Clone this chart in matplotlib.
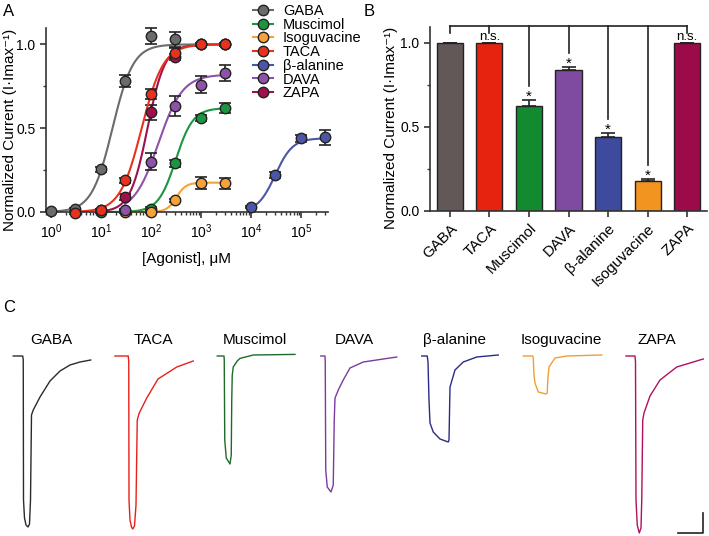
import numpy as np
import matplotlib
matplotlib.use("Agg")
import matplotlib.pyplot as plt
from matplotlib.ticker import MultipleLocator, LogLocator

plt.rcParams['font.family'] = ['Liberation Sans', 'DejaVu Sans']
plt.rcParams['font.size'] = 11
plt.rcParams['axes.linewidth'] = 1.2
plt.rcParams['xtick.major.width'] = 1.2
plt.rcParams['ytick.major.width'] = 1.2

# ---- panel A: concentration-response data ----
gaba_x = [1, 3, 10, 30, 100, 300, 1000, 3000]
gaba_y = [0.005, 0.015, 0.255, 0.78, 1.05, 1.03, 1.0, 1.0]
gaba_err = [0.005, 0.01, 0.015, 0.035, 0.05, 0.045, 0.01, 0.01]

musc_x = [10, 30, 100, 300, 1000, 3000]
musc_y = [0.0, 0.008, 0.02, 0.29, 0.56, 0.62]
musc_err = [0.005, 0.005, 0.01, 0.02, 0.02, 0.03]

iso_x = [30, 100, 300, 1000, 3000]
iso_y = [0.0, 0.0, 0.07, 0.175, 0.17]
iso_err = [0.005, 0.005, 0.01, 0.035, 0.035]

taca_x = [3, 10, 30, 100, 300, 1000, 3000]
taca_y = [-0.005, 0.01, 0.19, 0.705, 0.95, 1.0, 1.0]
taca_err = [0.005, 0.005, 0.015, 0.03, 0.03, 0.01, 0.01]

bala_x = [1e4, 3e4, 1e5, 3e5]
bala_y = [0.03, 0.22, 0.44, 0.445]
bala_err = [0.005, 0.02, 0.02, 0.045]

dava_x = [30, 100, 300, 1000, 3000]
dava_y = [0.01, 0.30, 0.635, 0.76, 0.83]
dava_err = [0.005, 0.05, 0.06, 0.05, 0.05]

zapa_x = [10, 30, 100, 300, 1000, 3000]
zapa_y = [0.01, 0.09, 0.595, 0.925, 1.0, 1.0]
zapa_err = [0.005, 0.02, 0.045, 0.02, 0.01, 0.01]

# Hill fit parameters: EC50 (uM), Hill slope, max
fit_ec50 = {'GABA': 17, 'Muscimol': 310, 'Isoguvacine': 320, 'TACA': 65,
            'β-alanine': 30000, 'DAVA': 140, 'ZAPA': 85}
fit_nh = {'GABA': 2.1, 'Muscimol': 2.5, 'Isoguvacine': 4.5, 'TACA': 2.0,
          'β-alanine': 2.5, 'DAVA': 1.8, 'ZAPA': 2.5}
fit_top = {'GABA': 1.0, 'Muscimol': 0.62, 'Isoguvacine': 0.175, 'TACA': 1.0,
           'β-alanine': 0.44, 'DAVA': 0.82, 'ZAPA': 1.0}

# ---- panel B: max responses ----
b_names = ['GABA', 'TACA', 'Muscimol', 'DAVA', 'β-alanine', 'Isoguvacine', 'ZAPA']
b_vals = [1.0, 1.0, 0.625, 0.835, 0.44, 0.175, 1.0]
b_err = [0.0, 0.0, 0.035, 0.02, 0.02, 0.012, 0.0]
b_sig = ['', 'n.s.', '*', '*', '*', '*', 'n.s.']
b_colors = ['#625858', '#e5230e', '#148a30', '#7f4ba0', '#3d4a9e', '#f29420', '#9d0a4a']

# ---- panel C: example traces (time in s, current in uA) ----
tr_gaba_t = [0, 3.8, 4.0, 4.1, 4.5, 5.1, 5.9, 6.5, 6.9, 7.3, 8.0, 10.7, 14.7, 18.7, 22.7, 26.7, 31.0]
tr_gaba_i = [0, 0, -0.2, -7.2, -8.1, -8.45, -8.55, -8.4, -7.2, -2.95, -2.7, -2.05, -1.25, -0.75, -0.45, -0.3, -0.2]
tr_taca_t = [0, 5.3, 5.5, 5.6, 6.0, 6.6, 7.1, 7.8, 8.4, 8.9, 9.7, 11.3, 12.7, 17.2, 24.7, 31.3]
tr_taca_i = [0, 0, -0.3, -7.2, -8.2, -8.55, -8.65, -8.5, -7.45, -3.2, -2.85, -2.45, -2.1, -1.15, -0.55, -0.25]
tr_musc_t = [0, 2.7, 2.8, 3.0, 3.6, 5.1, 5.6, 5.8, 6.0, 6.4, 8.0, 9.1, 14.4, 31.1]
tr_musc_i = [0, 0, -0.2, -4.2, -5.1, -5.4, -4.95, -2.2, -0.95, -0.55, -0.25, -0.12, 0.05, 0.08]
tr_dava_t = [0, 1.7, 1.8, 2.0, 2.6, 4.1, 5.0, 5.4, 5.7, 7.2, 9.0, 11.7, 17.0, 30.4]
tr_dava_i = [0, 0, -0.3, -5.7, -6.55, -6.8, -6.45, -3.2, -2.1, -1.65, -1.2, -0.6, -0.3, -0.05]
tr_bala_t = [0, 2.2, 2.5, 2.9, 3.3, 4.6, 7.3, 10.6, 10.9, 11.2, 11.3, 13.3, 16.6, 22.0, 30.6]
tr_bala_i = [0, 0, -0.3, -2.2, -3.35, -3.8, -4.15, -4.3, -4.2, -2.2, -1.55, -0.7, -0.3, -0.05, 0.05]
tr_iso_t = [0, 3.8, 4.0, 4.3, 4.7, 6.0, 9.1, 9.6, 9.8, 10.3, 12.7, 17.4, 31.4]
tr_iso_i = [0, 0, -0.1, -0.95, -1.35, -1.8, -1.9, -1.85, -1.2, -0.55, -0.1, 0, 0.05]
tr_zapa_t = [0, 3.6, 3.8, 4.0, 4.5, 5.3, 6.0, 6.3, 6.7, 7.2, 9.6, 13.6, 20.3, 30.9]
tr_zapa_i = [0, 0, -0.3, -7.2, -8.45, -8.85, -8.6, -7.2, -3.2, -2.85, -2.0, -1.2, -0.55, -0.15]

fig = plt.figure(figsize=(7.09, 5.36), dpi=100)

# ================= A =================
axA = fig.add_axes([0.0649, 0.6045, 0.3977, 0.3427])
series = [
    ('ZAPA', zapa_x, zapa_y, zapa_err, '#a1104d'),
    ('GABA', gaba_x, gaba_y, gaba_err, '#6b6b6b'),
    ('Muscimol', musc_x, musc_y, musc_err, '#1a9641'),
    ('Isoguvacine', iso_x, iso_y, iso_err, '#f7a13b'),
    ('TACA', taca_x, taca_y, taca_err, '#e8321e'),
    ('β-alanine', bala_x, bala_y, bala_err, '#4c56a6'),
    ('DAVA', dava_x, dava_y, dava_err, '#8e52a8'),
]
colors = {}
for name, xs, ys, es, col in series:
    xx = np.logspace(np.log10(xs[0]), np.log10(xs[-1]), 200)
    yy = fit_top[name] / (1 + (fit_ec50[name] / xx) ** fit_nh[name])
    axA.plot(xx, yy, color=col, lw=1.5, clip_on=False)
    axA.errorbar(xs, ys, yerr=es, fmt='none', ecolor='#222222', elinewidth=1.2,
                 capsize=4, capthick=1.2, clip_on=False)
    axA.plot(xs, ys, 'o', ms=7.5, mfc=col, mec='#222222', mew=1.0,
             clip_on=False, zorder=5)
    colors[name] = col

axA.set_xscale('log')
axA.set_xlim(0.8, 3.4e5)
axA.set_ylim(0, 1.096)
axA.set_yticks([0.0, 0.5, 1.0])
axA.set_yticklabels(['0.0', '0.5', '1.0'])
axA.yaxis.set_minor_locator(MultipleLocator(0.25))
axA.xaxis.set_major_locator(LogLocator(base=10, numticks=10))
axA.xaxis.set_minor_locator(LogLocator(base=10, subs=np.arange(2, 10), numticks=20))
axA.tick_params(which='major', length=4, color='#333333', labelsize=10)
axA.tick_params(which='minor', length=2.5, width=1.0, color='#333333')
for s in ['top', 'right']:
    axA.spines[s].set_visible(False)
for s in ['left', 'bottom']:
    axA.spines[s].set_color('#333333')
axA.set_xlabel('[Agonist], μM', fontsize=11, labelpad=8)
axA.set_ylabel('Normalized Current (I·Imax⁻¹)', fontsize=11)
axA.yaxis.set_label_coords(-0.103, 0.446)

leg_order = ['GABA', 'Muscimol', 'Isoguvacine', 'TACA', 'β-alanine', 'DAVA', 'ZAPA']
leg_handles = [plt.Line2D([], [], color=colors[n], lw=1.5, marker='o', ms=7.5,
                          mfc=colors[n], mec='#222222', mew=1.0) for n in leg_order]
fig.legend(leg_handles, leg_order, loc='upper left', bbox_to_anchor=(253 / 709, 1 - 4 / 536),
           frameon=False, fontsize=10.5, handlelength=1.35, handletextpad=0.7,
           labelspacing=-0.02, borderpad=0, borderaxespad=0)

# ================= B =================
axB = fig.add_axes([0.6065, 0.6069, 0.3907, 0.3433])
xb = np.arange(len(b_names))
axB.bar(xb, b_vals, width=0.66, color=b_colors, edgecolor='#222222', linewidth=1.0, zorder=2)
axB.errorbar(xb, b_vals, yerr=[np.zeros(len(b_err)), b_err], fmt='none', ecolor='#222222',
             elinewidth=1.2, capsize=5, capthick=1.2, zorder=3)
axB.set_xlim(-0.5, 6.5)
axB.set_ylim(0, 1.095)
axB.set_yticks([0.0, 0.5, 1.0])
axB.set_yticklabels(['0.0', '0.5', '1.0'])
axB.yaxis.set_minor_locator(MultipleLocator(0.25))
axB.set_xticks(xb)
axB.set_xticklabels(b_names, rotation=45, ha='right', rotation_mode='anchor', fontsize=11)
axB.tick_params(which='major', length=4, color='#333333')
axB.tick_params(axis='y', labelsize=10)
axB.tick_params(which='minor', length=2.5, width=1.0, color='#333333')
for s in ['top', 'right']:
    axB.spines[s].set_visible(False)
for s in ['left', 'bottom']:
    axB.spines[s].set_color('#333333')
axB.set_ylabel('Normalized Current (I·Imax⁻¹)', fontsize=11)
axB.yaxis.set_label_coords(-0.116, 0.45)

# significance bracket
top_y = 1.097
axB.plot([0, 6], [top_y, top_y], color='#222222', lw=1.2, clip_on=False)
for i in range(len(b_names)):
    tip = b_vals[i] + b_err[i]
    if b_sig[i] == '*':
        axB.plot([i, i], [top_y, tip + 0.085], color='#222222', lw=1.2, clip_on=False)
        axB.text(i, tip - 0.005, '*', ha='center', va='baseline', fontsize=11)
    else:
        axB.plot([i, i], [top_y, 1.057], color='#222222', lw=1.2, clip_on=False)
        if b_sig[i]:
            axB.text(i, 1.0, b_sig[i], ha='center', va='bottom', fontsize=9.5)

# ================= C =================
axC = fig.add_axes([0, 0, 1, 236 / 536])
axC.set_xlim(0, 709 / 2.5)
axC.set_ylim(-9.0, 2.8)
axC.axis('off')
traces = [
    ('GABA', tr_gaba_t, tr_gaba_i, '#2b2b2b'),
    ('TACA', tr_taca_t, tr_taca_i, '#e8201a'),
    ('Muscimol', tr_musc_t, tr_musc_i, '#1d6b2a'),
    ('DAVA', tr_dava_t, tr_dava_i, '#7a3aa0'),
    ('β-alanine', tr_bala_t, tr_bala_i, '#2a2a8a'),
    ('Isoguvacine', tr_iso_t, tr_iso_i, '#f0a030'),
    ('ZAPA', tr_zapa_t, tr_zapa_i, '#b01060'),
]
trace_start = [5.3, 46.0, 86.9, 128.3, 168.7, 209.3, 250.4]
label_pos = [20.4, 61.2, 102.0, 141.6, 182.0, 224.7, 262.7]
for (name, t, cur, col), t0, lx in zip(traces, trace_start, label_pos):
    axC.plot(np.array(t) + t0, cur, color=col, lw=1.0)
    axC.text(lx, 0.8, name, ha='center', va='center', fontsize=11)
# scale bar
axC.plot([271.2, 281.1, 281.1], [-8.85, -8.85, -7.85], color='#222222', lw=1.2)

fig.text(3 / 709, 1 - 12 / 536, 'A', fontsize=12, va='center')
fig.text(364 / 709, 1 - 12 / 536, 'B', fontsize=12, va='center')
fig.text(3 / 709, 1 - 308 / 536, 'C', fontsize=12, va='center')

fig.savefig('out.png', dpi=100)
